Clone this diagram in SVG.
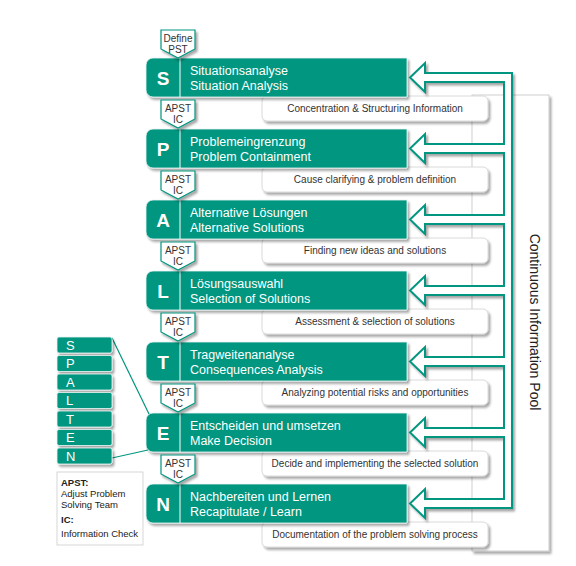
<svg xmlns="http://www.w3.org/2000/svg" width="576" height="566" viewBox="0 0 576 566">
<defs>
<filter id="sh" x="-10%" y="-10%" width="130%" height="140%">
<feDropShadow dx="2" dy="2.5" stdDeviation="1.3" flood-color="#000" flood-opacity="0.35"/>
</filter>
<style>
text{font-family:"Liberation Sans",Arial,sans-serif}
.main{fill:#00967f;stroke:#e8f5f2;stroke-width:0.8}
.div{stroke:#fff;stroke-width:1}
.let{fill:#fff;font-size:19px;font-weight:bold;text-anchor:middle}
.ttl{fill:#fff;font-size:12.5px}
.sub{fill:#fff;stroke:#d0d0d0;stroke-width:0.8}
.subt{fill:#333;font-size:10px;text-anchor:middle}
.tag{fill:#fff;stroke:#00967f;stroke-width:1.2}
.tagt{fill:#333;font-size:10px;text-anchor:middle}
.sp{fill:#00967f;stroke:#e8f5f2;stroke-width:0.8}
.spt{fill:#fff;font-size:13px}
.leg{fill:#222;font-size:9.5px}
</style>
</defs>
<rect width="576" height="566" fill="#fff"/>

<g id="pool">
<rect x="472" y="95" width="77" height="456" fill="#fff" stroke="#c4c4c4" stroke-width="0.8" filter="url(#sh)"/>
<text x="534" y="322" transform="rotate(90 534 322)" text-anchor="middle" dominant-baseline="middle" font-size="14" fill="#222">Continuous Information Pool</text>
</g>

<g id="row-S">
<rect class="sub" x="262" y="96" width="226" height="25" rx="5" filter="url(#sh)"/>
<text class="subt" x="375" y="111.5">Concentration &amp; Structuring Information</text>
<path class="main" d="M153,58H407V97H153A7,7 0 0 1 146,90V65A7,7 0 0 1 153,58Z" filter="url(#sh)"/>
<line class="div" x1="180" y1="58" x2="180" y2="97"/>
<text class="let" x="163" y="85">S</text>
<text class="ttl" x="190" y="75">Situationsanalyse</text>
<text class="ttl" x="190" y="90">Situation Analysis</text>
</g>

<g id="row-P" transform="translate(0,71)">
<rect class="sub" x="262" y="96" width="226" height="25" rx="5" filter="url(#sh)"/>
<text class="subt" x="375" y="111.5">Cause clarifying  &amp; problem definition</text>
<path class="main" d="M153,58H407V97H153A7,7 0 0 1 146,90V65A7,7 0 0 1 153,58Z" filter="url(#sh)"/>
<line class="div" x1="180" y1="58" x2="180" y2="97"/>
<text class="let" x="163" y="85">P</text>
<text class="ttl" x="190" y="75">Problemeingrenzung</text>
<text class="ttl" x="190" y="90">Problem Containment</text>
</g>

<g id="row-A" transform="translate(0,142)">
<rect class="sub" x="262" y="96" width="226" height="25" rx="5" filter="url(#sh)"/>
<text class="subt" x="375" y="111.5">Finding new ideas and solutions</text>
<path class="main" d="M153,58H407V97H153A7,7 0 0 1 146,90V65A7,7 0 0 1 153,58Z" filter="url(#sh)"/>
<line class="div" x1="180" y1="58" x2="180" y2="97"/>
<text class="let" x="163" y="85">A</text>
<text class="ttl" x="190" y="75">Alternative Lösungen</text>
<text class="ttl" x="190" y="90">Alternative Solutions</text>
</g>

<g id="row-L" transform="translate(0,213)">
<rect class="sub" x="262" y="96" width="226" height="25" rx="5" filter="url(#sh)"/>
<text class="subt" x="375" y="111.5">Assessment &amp; selection of solutions</text>
<path class="main" d="M153,58H407V97H153A7,7 0 0 1 146,90V65A7,7 0 0 1 153,58Z" filter="url(#sh)"/>
<line class="div" x1="180" y1="58" x2="180" y2="97"/>
<text class="let" x="163" y="85">L</text>
<text class="ttl" x="190" y="75">Lösungsauswahl</text>
<text class="ttl" x="190" y="90">Selection of Solutions</text>
</g>

<g id="row-T" transform="translate(0,284)">
<rect class="sub" x="262" y="96" width="226" height="25" rx="5" filter="url(#sh)"/>
<text class="subt" x="375" y="111.5">Analyzing potential risks and opportunities</text>
<path class="main" d="M153,58H407V97H153A7,7 0 0 1 146,90V65A7,7 0 0 1 153,58Z" filter="url(#sh)"/>
<line class="div" x1="180" y1="58" x2="180" y2="97"/>
<text class="let" x="163" y="85">T</text>
<text class="ttl" x="190" y="75">Tragweitenanalyse</text>
<text class="ttl" x="190" y="90">Consequences Analysis</text>
</g>

<g id="row-E" transform="translate(0,355)">
<rect class="sub" x="262" y="96" width="226" height="25" rx="5" filter="url(#sh)"/>
<text class="subt" x="375" y="111.5">Decide and implementing the selected solution</text>
<path class="main" d="M153,58H407V97H153A7,7 0 0 1 146,90V65A7,7 0 0 1 153,58Z" filter="url(#sh)"/>
<line class="div" x1="180" y1="58" x2="180" y2="97"/>
<text class="let" x="163" y="85">E</text>
<text class="ttl" x="190" y="75">Entscheiden und umsetzen</text>
<text class="ttl" x="190" y="90">Make Decision</text>
</g>

<g id="row-N" transform="translate(0,426)">
<rect class="sub" x="262" y="96" width="226" height="25" rx="5" filter="url(#sh)"/>
<text class="subt" x="375" y="111.5">Documentation of the problem solving process</text>
<path class="main" d="M153,58H407V97H153A7,7 0 0 1 146,90V65A7,7 0 0 1 153,58Z" filter="url(#sh)"/>
<line class="div" x1="180" y1="58" x2="180" y2="97"/>
<text class="let" x="163" y="85">N</text>
<text class="ttl" x="190" y="75">Nachbereiten und Lernen</text>
<text class="ttl" x="190" y="90">Recapitulate / Learn</text>
</g>

<g id="tag-define">
<path class="tag" d="M161,30H195V49L178,58L161,49Z" filter="url(#sh)"/>
<text class="tagt" x="178" y="42">Define</text>
<text class="tagt" x="178" y="53">PST</text>
</g>
<g id="tag-1"><path class="tag" d="M161,100H195V119L178,128L161,119Z" filter="url(#sh)"/><text class="tagt" x="178" y="112">APST</text><text class="tagt" x="178" y="123">IC</text></g>
<g id="tag-2" transform="translate(0,71)"><path class="tag" d="M161,100H195V119L178,128L161,119Z" filter="url(#sh)"/><text class="tagt" x="178" y="112">APST</text><text class="tagt" x="178" y="123">IC</text></g>
<g id="tag-3" transform="translate(0,142)"><path class="tag" d="M161,100H195V119L178,128L161,119Z" filter="url(#sh)"/><text class="tagt" x="178" y="112">APST</text><text class="tagt" x="178" y="123">IC</text></g>
<g id="tag-4" transform="translate(0,213)"><path class="tag" d="M161,100H195V119L178,128L161,119Z" filter="url(#sh)"/><text class="tagt" x="178" y="112">APST</text><text class="tagt" x="178" y="123">IC</text></g>
<g id="tag-5" transform="translate(0,284)"><path class="tag" d="M161,100H195V119L178,128L161,119Z" filter="url(#sh)"/><text class="tagt" x="178" y="112">APST</text><text class="tagt" x="178" y="123">IC</text></g>
<g id="tag-6" transform="translate(0,355)"><path class="tag" d="M161,100H195V119L178,128L161,119Z" filter="url(#sh)"/><text class="tagt" x="178" y="112">APST</text><text class="tagt" x="178" y="123">IC</text></g>

<g id="connectors">
<path d="M410,77.5L425,63L425,73L512,73L512,508L425,508L425,518L410,503.5L425,489L425,499L504,499L504,437L425,437L425,447L410,432.5L425,418L425,428L504,428L504,366L425,366L425,376L410,361.5L425,347L425,357L504,357L504,295L425,295L425,305L410,290.5L425,276L425,286L504,286L504,224L425,224L425,234L410,219.5L425,205L425,215L504,215L504,153L425,153L425,163L410,148.5L425,134L425,144L504,144L504,82L425,82L425,92Z" fill="#fff" stroke="#00967f" stroke-width="2" stroke-linejoin="miter" filter="url(#sh)"/>
<line x1="112" y1="338" x2="149" y2="414" stroke="#00967f" stroke-width="1.2"/>
<line x1="112" y1="458" x2="148" y2="450" stroke="#00967f" stroke-width="1.2"/>
</g>

<g id="spalten">
<rect class="sp" x="57" y="337" width="55" height="16" rx="2" filter="url(#sh)"/><text class="spt" x="66" y="349.5">S</text>
<rect class="sp" x="57" y="355.5" width="55" height="16" rx="2" filter="url(#sh)"/><text class="spt" x="66" y="368">P</text>
<rect class="sp" x="57" y="374" width="55" height="16" rx="2" filter="url(#sh)"/><text class="spt" x="66" y="386.5">A</text>
<rect class="sp" x="57" y="392.5" width="55" height="16" rx="2" filter="url(#sh)"/><text class="spt" x="66" y="405">L</text>
<rect class="sp" x="57" y="411" width="55" height="16" rx="2" filter="url(#sh)"/><text class="spt" x="66" y="423.5">T</text>
<rect class="sp" x="57" y="429.5" width="55" height="16" rx="2" filter="url(#sh)"/><text class="spt" x="66" y="442">E</text>
<rect class="sp" x="57" y="448" width="55" height="16" rx="2" filter="url(#sh)"/><text class="spt" x="66" y="460.5">N</text>
</g>

<g id="legend">
<rect x="57" y="472" width="86" height="73" fill="#fff" stroke="#ccc" stroke-width="0.8"/>
<text class="leg" x="61" y="486" font-weight="bold">APST:</text>
<text class="leg" x="61" y="497">Adjust Problem</text>
<text class="leg" x="61" y="508">Solving Team</text>
<text class="leg" x="61" y="523" font-weight="bold">IC:</text>
<text class="leg" x="61" y="537">Information Check</text>
</g>
</svg>
